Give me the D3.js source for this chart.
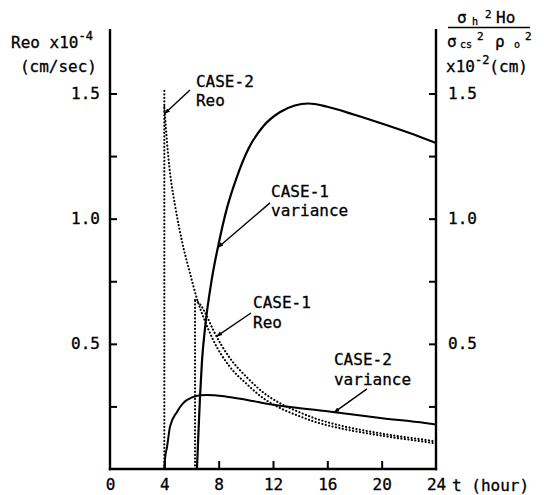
<!DOCTYPE html>
<html>
<head>
<meta charset="utf-8">
<script src="https://cdn.jsdelivr.net/npm/d3@7"></script>
<style>
  html, body { margin: 0; padding: 0; background: #fff; }
  svg { display: block; }
  text { font-family: "DejaVu Sans Mono", monospace; fill: #000; stroke: #000; stroke-width: 0.3; }
</style>
</head>
<body>
<svg id="chart" width="544" height="495"></svg>
<script>
// Time axis (hours) and tick labels
const hourTicks = [0, 4, 8, 12, 16, 20, 24];
const valueTicks = [0.25, 0.5, 0.75, 1.0, 1.25, 1.5];
const valueLabels = [0.5, 1.0, 1.5];

// CASE-1 variance (solid)
const case1VarT = [6.4, 6.5, 6.62, 6.77, 7.0, 7.5, 8.0, 8.6, 9.3, 10.2, 11.3, 12.5, 13.6, 14.6, 16, 18, 20, 22, 24];
const case1VarV = [0, 0.13, 0.28, 0.43, 0.565, 0.76, 0.9, 1.04, 1.16, 1.28, 1.37, 1.425, 1.452, 1.46, 1.447, 1.415, 1.38, 1.343, 1.302];

// CASE-2 variance (solid)
const case2VarT = [4.0, 4.05, 4.2, 4.42, 4.93, 5.37, 6.04, 6.63, 7.15, 8.5, 10.09, 12.0, 13.25, 16.4, 19.9, 23.2, 24];
const case2VarV = [0, 0.04, 0.088, 0.17, 0.228, 0.262, 0.286, 0.295, 0.296, 0.29, 0.276, 0.257, 0.248, 0.228, 0.204, 0.184, 0.178];

// CASE-2 Reo (dotted): onset jump at t=4, then decay
const case2ReoOnsetT = [4, 4];
const case2ReoOnsetV = [0, 1.52];
const case2ReoT = [4.0, 4.12, 4.27, 4.45, 4.8, 5.3, 5.9, 6.4, 7.0, 7.6, 8.8, 10.1, 11.3, 12.5, 13.8, 15, 17, 19, 21, 23, 24];
const case2ReoV = [1.446, 1.36, 1.26, 1.17, 1.05, 0.91, 0.78, 0.68, 0.59, 0.515, 0.41, 0.338, 0.282, 0.244, 0.214, 0.19, 0.162, 0.142, 0.125, 0.11, 0.102];

// CASE-1 Reo (dotted): onset jump at t=6.26, then decay
const case1ReoOnsetT = [6.26, 6.26];
const case1ReoOnsetV = [0, 0.675];
const case1ReoT = [6.26, 6.6, 7.0, 7.6, 8.8, 10.1, 11.3, 12.5, 13.8, 15, 17, 19, 21, 23, 24];
const case1ReoV = [0.675, 0.66, 0.625, 0.555, 0.445, 0.365, 0.305, 0.263, 0.23, 0.204, 0.173, 0.151, 0.133, 0.118, 0.11];

// Curve annotations: text lines, text anchor, leader tail and tip (t, value)
const notes = [
  { lines: ["CASE-2", "Reo"],      at: [6.33, 1.526], tail: [5.89, 1.514], tip: [4.03, 1.42] },
  { lines: ["CASE-1", "variance"], at: [11.86, 1.087], tail: [11.78, 1.063], tip: [7.95, 0.885] },
  { lines: ["CASE-1", "Reo"],      at: [10.53, 0.643], tail: [10.38, 0.623], tip: [7.85, 0.53] },
  { lines: ["CASE-2", "variance"], at: [16.49, 0.415], tail: [18.92, 0.32], tip: [16.5, 0.226] }
];

const zip = (ts, vs) => ts.map((t, i) => ({ t, v: vs[i] }));

const svg = d3.select("#chart");
const left = 110, right = 436, bottom = 469, topV = 93.5, axisTop = 29;
const FS = 16;

const x = d3.scaleLinear().domain([0, 24]).range([left, right]);
const y = d3.scaleLinear().domain([0, 1.5]).range([bottom, topV]);

// arrowhead marker for leader lines
svg.append("defs").append("marker")
  .attr("id", "arrow").attr("viewBox", "0 0 10 10")
  .attr("refX", 9).attr("refY", 5)
  .attr("markerWidth", 6).attr("markerHeight", 6)
  .attr("markerUnits", "userSpaceOnUse")
  .attr("orient", "auto")
  .append("path").attr("d", "M0,1.5 L10,5 L0,8.5 Z").attr("fill", "#000");

// frame lines
const frame = svg.append("g").attr("stroke", "#000").attr("stroke-width", 2.4).attr("fill", "none");
frame.append("line").attr("x1", left).attr("x2", left).attr("y1", axisTop).attr("y2", bottom + 1.2);
frame.append("line").attr("x1", right).attr("x2", right).attr("y1", axisTop).attr("y2", bottom + 1.2);
frame.append("line").attr("x1", left - 1.2).attr("x2", right + 1.2).attr("y1", bottom).attr("y2", bottom);

const fmt = d => valueLabels.includes(d) ? d3.format(".1f")(d) : "";

function styleAxis(g) {
  g.select(".domain").remove();
  g.selectAll(".tick line").attr("stroke", "#000").attr("stroke-width", 2);
  g.selectAll(".tick text").attr("font-family", "DejaVu Sans Mono").attr("font-size", FS).attr("fill", "#000");
}

svg.append("g").attr("transform", `translate(${left},0)`)
  .call(d3.axisLeft(y).tickValues(valueTicks).tickFormat(fmt).tickSize(-7).tickPadding(10))
  .call(styleAxis);

svg.append("g").attr("transform", `translate(${right},0)`)
  .call(d3.axisRight(y).tickValues(valueTicks).tickFormat(fmt).tickSize(-7).tickPadding(12))
  .call(styleAxis);

svg.append("g").attr("transform", `translate(0,${bottom})`)
  .call(d3.axisBottom(x).tickValues(hourTicks).tickFormat(d3.format("d")).tickSize(-8).tickPadding(10))
  .call(styleAxis)
  .call(g => g.selectAll(".tick").filter(d => d === 0 || d === 24).select("line").remove());

// x-axis unit
svg.append("text").attr("x", 452).attr("y", bottom + 22).attr("font-size", FS).text("t (hour)");

// left axis title
const lt = svg.append("text").attr("x", 11).attr("y", 48).attr("font-size", FS);
lt.append("tspan").text("Reo x10");
lt.append("tspan").attr("dy", -8).attr("font-size", 12).text("-4");
svg.append("text").attr("x", 97).attr("y", 72).attr("text-anchor", "end").attr("font-size", FS).text("(cm/sec)");

// right axis title: fraction
const num = svg.append("text").attr("y", 23).attr("font-size", FS);
num.append("tspan").attr("x", 457).text("σ");
num.append("tspan").attr("x", 472).attr("dy", 2).attr("font-size", 10).text("h");
num.append("tspan").attr("x", 485).attr("dy", -7).attr("font-size", 11).text("2");
num.append("tspan").attr("x", 496).attr("dy", 5).text("Ho");
svg.append("line").attr("x1", 448).attr("x2", 530).attr("y1", 27.5).attr("y2", 27.5)
  .attr("stroke", "#000").attr("stroke-width", 1.6);
const den = svg.append("text").attr("y", 47).attr("font-size", FS);
den.append("tspan").attr("x", 447).text("σ");
den.append("tspan").attr("x", 460).attr("dy", 1).attr("font-size", 10).text("cs");
den.append("tspan").attr("x", 477).attr("dy", -8).attr("font-size", 11).text("2");
den.append("tspan").attr("x", 495).attr("dy", 7).text("ρ");
den.append("tspan").attr("x", 514).attr("dy", 1).attr("font-size", 10).text("o");
den.append("tspan").attr("x", 525).attr("dy", -8).attr("font-size", 11).text("2");
const rt = svg.append("text").attr("x", 446).attr("y", 72).attr("font-size", FS);
rt.append("tspan").text("x10");
rt.append("tspan").attr("dy", -8).attr("font-size", 12).text("-2");
rt.append("tspan").attr("dy", 8).text("(cm)");

// series
const lineLinear = d3.line().x(d => x(d.t)).y(d => y(d.v));
const lineSmooth = d3.line().x(d => x(d.t)).y(d => y(d.v)).curve(d3.curveMonotoneX);

const plot = svg.append("g").attr("fill", "none").attr("stroke", "#000");

const dotted = p => p.attr("stroke-width", 2.1).attr("stroke-dasharray", "0.1,3.4").attr("stroke-linecap", "round");

plot.append("path").datum(zip(case2ReoOnsetT, case2ReoOnsetV)).attr("d", lineLinear).call(dotted);
plot.append("path").datum(zip(case2ReoT, case2ReoV)).attr("d", lineSmooth).call(dotted);
plot.append("path").datum(zip(case1ReoOnsetT, case1ReoOnsetV)).attr("d", lineLinear).call(dotted);
plot.append("path").datum(zip(case1ReoT, case1ReoV)).attr("d", lineSmooth).call(dotted);

plot.append("path").datum(zip(case2VarT, case2VarV)).attr("d", lineSmooth).attr("stroke-width", 2);
plot.append("path").datum(zip(case1VarT, case1VarV)).attr("d", lineSmooth).attr("stroke-width", 2.2);

// annotations
const ann = svg.append("g");
notes.forEach(n => {
  ann.append("line")
    .attr("x1", x(n.tail[0])).attr("y1", y(n.tail[1]))
    .attr("x2", x(n.tip[0])).attr("y2", y(n.tip[1]))
    .attr("stroke", "#000").attr("stroke-width", 1.4)
    .attr("marker-end", "url(#arrow)");
  n.lines.forEach((s, i) => {
    ann.append("text").attr("x", x(n.at[0])).attr("y", y(n.at[1]) + i * 19.5)
      .attr("font-size", FS).text(s);
  });
});
</script>
</body>
</html>
